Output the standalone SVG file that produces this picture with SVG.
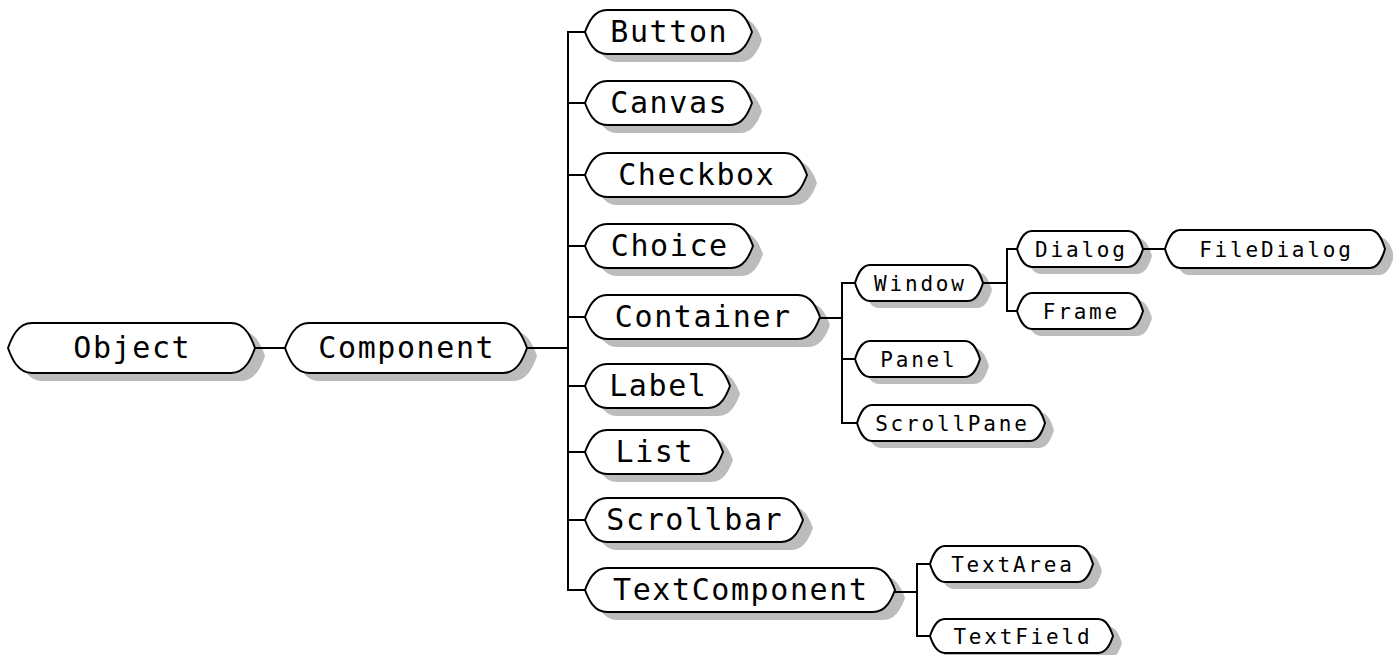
<svg xmlns="http://www.w3.org/2000/svg" width="1393" height="655" viewBox="0 0 1393 655">
<style>
.shadow{fill:#bcbcbc;stroke:none}
.shape{fill:#ffffff;stroke:#000;stroke-width:2}
.conn{fill:none;stroke:#000;stroke-width:2}
.big{font-family:"DejaVu Sans Mono","Liberation Mono",monospace;font-size:30px;letter-spacing:1.6px;text-anchor:middle;fill:#000}
.small{font-family:"DejaVu Sans Mono","Liberation Mono",monospace;font-size:21px;letter-spacing:2.8px;text-anchor:middle;fill:#000}
</style>
<defs>
<path id="p-object" d="M32,323 H231 C245.4,323 251.4,338 255,348 C251.4,358 245.4,373 231,373 H32 C17.6,373 11.6,358 8,348 C11.6,338 17.6,323 32,323 Z"/>
<path id="p-component" d="M309,323 H503 C517.4,323 523.4,338 527,348 C523.4,358 517.4,373 503,373 H309 C294.6,373 288.6,358 285,348 C288.6,338 294.6,323 309,323 Z"/>
<path id="p-button" d="M607,10 H730 C743.2,10 748.7,23.2 752,32 C748.7,40.8 743.2,54 730,54 H607 C593.8,54 588.3,40.8 585,32 C588.3,23.2 593.8,10 607,10 Z"/>
<path id="p-canvas" d="M607,81 H730 C743.2,81 748.7,94.2 752,103 C748.7,111.8 743.2,125 730,125 H607 C593.8,125 588.3,111.8 585,103 C588.3,94.2 593.8,81 607,81 Z"/>
<path id="p-checkbox" d="M607,153 H785 C798.2,153 803.7,166.2 807,175 C803.7,183.8 798.2,197 785,197 H607 C593.8,197 588.3,183.8 585,175 C588.3,166.2 593.8,153 607,153 Z"/>
<path id="p-choice" d="M607,224 H731 C744.2,224 749.7,237.2 753,246 C749.7,254.8 744.2,268 731,268 H607 C593.8,268 588.3,254.8 585,246 C588.3,237.2 593.8,224 607,224 Z"/>
<path id="p-container" d="M607,295 H798 C811.2,295 816.7,308.2 820,317 C816.7,325.8 811.2,339 798,339 H607 C593.8,339 588.3,325.8 585,317 C588.3,308.2 593.8,295 607,295 Z"/>
<path id="p-label" d="M607,364 H708 C721.2,364 726.7,377.2 730,386 C726.7,394.8 721.2,408 708,408 H607 C593.8,408 588.3,394.8 585,386 C588.3,377.2 593.8,364 607,364 Z"/>
<path id="p-list" d="M607,430 H701 C714.2,430 719.7,443.2 723,452 C719.7,460.8 714.2,474 701,474 H607 C593.8,474 588.3,460.8 585,452 C588.3,443.2 593.8,430 607,430 Z"/>
<path id="p-scrollbar" d="M607,498 H781 C794.2,498 799.7,511.2 803,520 C799.7,528.8 794.2,542 781,542 H607 C593.8,542 588.3,528.8 585,520 C588.3,511.2 593.8,498 607,498 Z"/>
<path id="p-textcomponent" d="M607,568 H873 C886.2,568 891.7,581.2 895,590 C891.7,598.8 886.2,612 873,612 H607 C593.8,612 588.3,598.8 585,590 C588.3,581.2 593.8,568 607,568 Z"/>
<path id="p-window" d="M870,265 H968 C977,265 980.75,275.8 983,283 C980.75,290.2 977,301 968,301 H870 C861,301 857.25,290.2 855,283 C857.25,275.8 861,265 870,265 Z"/>
<path id="p-panel" d="M870,341 H965 C974,341 977.75,351.8 980,359 C977.75,366.2 974,377 965,377 H870 C861,377 857.25,366.2 855,359 C857.25,351.8 861,341 870,341 Z"/>
<path id="p-scrollpane" d="M872,405 H1030 C1039,405 1042.75,415.8 1045,423 C1042.75,430.2 1039,441 1030,441 H872 C863,441 859.25,430.2 857,423 C859.25,415.8 863,405 872,405 Z"/>
<path id="p-dialog" d="M1032,231 H1128 C1137,231 1140.75,241.8 1143,249 C1140.75,256.2 1137,267 1128,267 H1032 C1023,267 1019.25,256.2 1017,249 C1019.25,241.8 1023,231 1032,231 Z"/>
<path id="p-frame" d="M1032,293 H1128 C1137,293 1140.75,303.8 1143,311 C1140.75,318.2 1137,329 1128,329 H1032 C1023,329 1019.25,318.2 1017,311 C1019.25,303.8 1023,293 1032,293 Z"/>
<path id="p-filedialog" d="M1180,230 H1370 C1379,230 1382.75,241.4 1385,249 C1382.75,256.6 1379,268 1370,268 H1180 C1171,268 1167.25,256.6 1165,249 C1167.25,241.4 1171,230 1180,230 Z"/>
<path id="p-textarea" d="M945,546 H1078 C1087,546 1090.75,556.8 1093,564 C1090.75,571.2 1087,582 1078,582 H945 C936,582 932.25,571.2 930,564 C932.25,556.8 936,546 945,546 Z"/>
<path id="p-textfield" d="M945,619 H1098 C1107,619 1110.75,629.2 1113,636 C1110.75,642.8 1107,653 1098,653 H945 C936,653 932.25,642.8 930,636 C932.25,629.2 936,619 945,619 Z"/>
</defs>
<rect width="1393" height="655" fill="#ffffff"/>

<g id="node-object"><use href="#p-object" class="shadow" transform="translate(10,8)"/><use href="#p-object" class="shape"/><text class="big" x="132.3" y="358">Object</text></g>
<g id="node-component"><use href="#p-component" class="shadow" transform="translate(10,8)"/><use href="#p-component" class="shape"/><text class="big" x="406.8" y="358">Component</text></g>
<g id="node-button"><use href="#p-button" class="shadow" transform="translate(10,8)"/><use href="#p-button" class="shape"/><text class="big" x="669.3" y="42">Button</text></g>
<g id="node-canvas"><use href="#p-canvas" class="shadow" transform="translate(10,8)"/><use href="#p-canvas" class="shape"/><text class="big" x="669.3" y="113">Canvas</text></g>
<g id="node-checkbox"><use href="#p-checkbox" class="shadow" transform="translate(10,8)"/><use href="#p-checkbox" class="shape"/><text class="big" x="696.8" y="185">Checkbox</text></g>
<g id="node-choice"><use href="#p-choice" class="shadow" transform="translate(10,8)"/><use href="#p-choice" class="shape"/><text class="big" x="669.8" y="256">Choice</text></g>
<g id="node-container"><use href="#p-container" class="shadow" transform="translate(10,8)"/><use href="#p-container" class="shape"/><text class="big" x="703.3" y="327">Container</text></g>
<g id="node-label"><use href="#p-label" class="shadow" transform="translate(10,8)"/><use href="#p-label" class="shape"/><text class="big" x="658.3" y="396">Label</text></g>
<g id="node-list"><use href="#p-list" class="shadow" transform="translate(10,8)"/><use href="#p-list" class="shape"/><text class="big" x="654.8" y="462">List</text></g>
<g id="node-scrollbar"><use href="#p-scrollbar" class="shadow" transform="translate(10,8)"/><use href="#p-scrollbar" class="shape"/><text class="big" x="694.8" y="530">Scrollbar</text></g>
<g id="node-textcomponent"><use href="#p-textcomponent" class="shadow" transform="translate(10,8)"/><use href="#p-textcomponent" class="shape"/><text class="big" x="740.8" y="600">TextComponent</text></g>
<g id="node-window"><use href="#p-window" class="shadow" transform="translate(9,7)"/><use href="#p-window" class="shape"/><text class="small" x="920.4" y="290.5">Window</text></g>
<g id="node-panel"><use href="#p-panel" class="shadow" transform="translate(9,7)"/><use href="#p-panel" class="shape"/><text class="small" x="918.9" y="366.5">Panel</text></g>
<g id="node-scrollpane"><use href="#p-scrollpane" class="shadow" transform="translate(9,7)"/><use href="#p-scrollpane" class="shape"/><text class="small" x="952.4" y="430.5">ScrollPane</text></g>
<g id="node-dialog"><use href="#p-dialog" class="shadow" transform="translate(9,7)"/><use href="#p-dialog" class="shape"/><text class="small" x="1081.4" y="256.5">Dialog</text></g>
<g id="node-frame"><use href="#p-frame" class="shadow" transform="translate(9,7)"/><use href="#p-frame" class="shape"/><text class="small" x="1081.4" y="318.5">Frame</text></g>
<g id="node-filedialog"><use href="#p-filedialog" class="shadow" transform="translate(9,7)"/><use href="#p-filedialog" class="shape"/><text class="small" x="1276.4" y="256.5">FileDialog</text></g>
<g id="node-textarea"><use href="#p-textarea" class="shadow" transform="translate(9,7)"/><use href="#p-textarea" class="shape"/><text class="small" x="1012.9" y="571.5">TextArea</text></g>
<g id="node-textfield"><use href="#p-textfield" class="shadow" transform="translate(9,7)"/><use href="#p-textfield" class="shape"/><text class="small" x="1022.9" y="643.5">TextField</text></g>

<g id="connectors" class="conn">
<path d="M255,348 H285"/>
<path d="M527,348 H568"/>
<path d="M585,32 H568 V590 H585"/>
<path d="M568,103 H585 M568,175 H585 M568,246 H585 M568,317 H585 M568,386 H585 M568,452 H585 M568,520 H585"/>
<path d="M820,318 H842"/>
<path d="M855,283 H842 V423 H857 M842,359 H855"/>
<path d="M983,283 H1007"/>
<path d="M1017,249 H1007 V311 H1017"/>
<path d="M1143,249 H1165"/>
<path d="M895,592 H917"/>
<path d="M930,564 H917 V636 H930"/>
</g>
</svg>
